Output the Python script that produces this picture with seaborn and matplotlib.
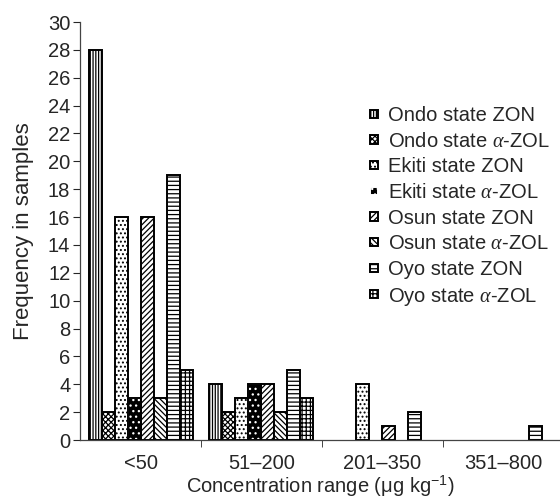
import pandas as pd
import seaborn as sns
import matplotlib.pyplot as plt
import matplotlib as mpl

# data
ranges = ['<50', '51–200', '201–350', '351–800']
series = ['Ondo state ZON', 'Ondo state $\\alpha$-ZOL',
          'Ekiti state ZON', 'Ekiti state $\\alpha$-ZOL',
          'Osun state ZON', 'Osun state $\\alpha$-ZOL',
          'Oyo state ZON', 'Oyo state $\\alpha$-ZOL']
ondo_zon = [28, 4, 0, 0]
ondo_zol = [2, 2, 0, 0]
ekiti_zon = [16, 3, 4, 0]
ekiti_zol = [3, 4, 0, 0]
osun_zon = [16, 4, 1, 0]
osun_zol = [3, 2, 0, 0]
oyo_zon = [19, 5, 2, 1]
oyo_zol = [5, 3, 0, 0]

values = [ondo_zon, ondo_zol, ekiti_zon, ekiti_zol,
          osun_zon, osun_zol, oyo_zon, oyo_zol]
rows = []
for name, vals in zip(series, values):
    for r, v in zip(ranges, vals):
        rows.append({'range': r, 'series': name, 'freq': v})
df = pd.DataFrame(rows)

hatches = ['||||||', 'xxxxxx', '....', '...', '//////', '\\\\\\\\\\\\', '----', '++++']

sns.set_style('ticks')
plt.rcParams['font.family'] = ['Liberation Sans', 'DejaVu Sans']
plt.rcParams['mathtext.fontset'] = 'custom'
plt.rcParams['mathtext.rm'] = 'Liberation Sans'
plt.rcParams['mathtext.it'] = 'Liberation Serif:italic'
plt.rcParams['hatch.linewidth'] = 0.9

fig = plt.figure(figsize=(5.6, 5.0), dpi=100)
ax = fig.add_axes([0.143, 0.12, 0.857, 0.836])

sns.barplot(data=df, x='range', y='freq', hue='series', hue_order=series,
            order=ranges, width=0.86, color='white', saturation=1,
            edgecolor='black', linewidth=1.4, legend=False, ax=ax)

for i, cont in enumerate(ax.containers):
    for p in cont.patches:
        p.set_hatch(hatches[i])
        p.set_facecolor('white')
        if series[i].startswith('Ekiti state $'):
            # black bar, white dots, black outline
            p.set_facecolor('black')
            p.set_edgecolor('white')
            if p.get_height() > 0:
                ax.add_patch(plt.Rectangle(p.get_xy(), p.get_width(), p.get_height(),
                                           fill=False, ec='black', lw=1.4, zorder=3))
        if p.get_height() == 0:
            p.set_linewidth(0)

handles = [cont.patches[0] for cont in ax.containers]
ax.legend(handles, series, loc='upper left', bbox_to_anchor=(0.566, 0.842),
          frameon=False, fontsize=14.5, handlelength=0.42, handleheight=0.24,
          handletextpad=0.5, labelspacing=0.33)

ax.set_xlim(-0.5, 3.47)
ax.set_ylim(0, 30)
ax.set_yticks(range(0, 31, 2))
ax.set_xticks([0.5, 1.5, 2.5], minor=True)
ax.tick_params(axis='x', which='major', length=0, labelsize=14.5, pad=10)
ax.tick_params(axis='x', which='minor', length=5, direction='out')
ax.tick_params(axis='y', labelsize=14.5, length=5, pad=2)
ax.set_xlabel('Concentration range (μg kg$^{-1}$)', fontsize=14.5, labelpad=1)
ax.set_ylabel('Frequency in samples', fontsize=16, labelpad=10)

sns.despine(ax=ax)
for s in ['left', 'bottom']:
    ax.spines[s].set_linewidth(0.9)
    ax.spines[s].set_color('#444444')

fig.savefig('out.png', dpi=100)
